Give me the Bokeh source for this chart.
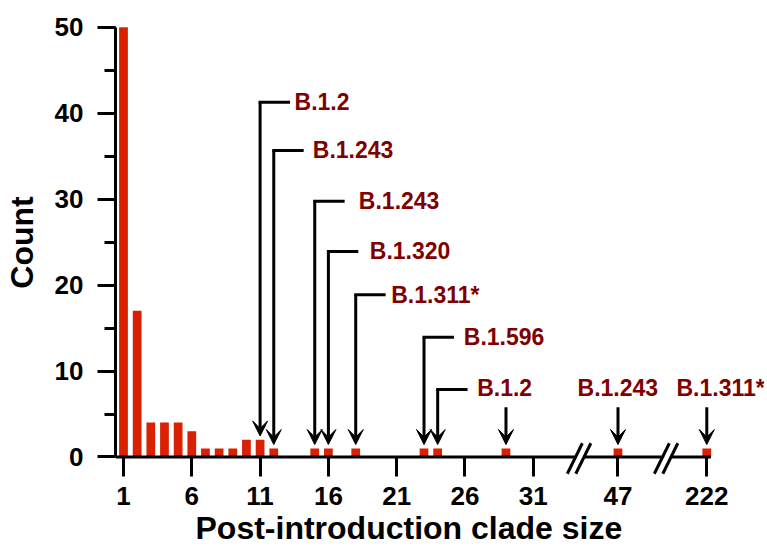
from bokeh.plotting import figure
from bokeh.models import (Range1d, FixedTicker, SingleIntervalTicker, ColumnDataSource,
                          Arrow, VeeHead, LabelSet, Title)
from bokeh.embed import file_html
from bokeh.resources import INLINE
from bokeh.core.properties import value

# ---------------- data ----------------
clade_size = [1, 2, 3, 4, 5, 6, 7, 8, 9, 10, 11, 12, 15, 16, 18, 23, 24, 29, 47, 222]
count = [50, 17, 4, 4, 4, 3, 1, 1, 1, 2, 2, 1, 1, 1, 1, 1, 1, 1, 1, 1]
tick_sizes = [1, 6, 11, 16, 21, 26, 31, 47, 222]

elbow_sizes = [11, 12, 15, 16, 18, 23, 24]
elbow_labels = ["B.1.2", "B.1.243", "B.1.243", "B.1.320", "B.1.311*", "B.1.596", ""]
drop_sizes = [29, 47, 222]
drop_labels = ["B.1.2", "B.1.243", "B.1.311*"]

x_title = "Post-introduction clade size"
y_title = "Count"

# ---------------- layout (broken axis) ----------------
axis_slots = {47: 37.2, 222: 43.7}
def slot(v):
    return axis_slots.get(v, v)

break_slots = [34.35, 40.72]
axis_end = 44.0
elbow_levels = [41.27, 35.66, 29.76, 23.91, 18.87, 13.94, 7.85]
elbow_text_x = [13.52, 14.86, 18.23, 19.03, 20.60, 25.91, None]
drop_top = 5.79
drop_text_x = [26.89, 34.24, 41.48]
drop_text_y = 8.08
tip_gap = 0.45
arm = 2.08

FONT = "Liberation Sans"
BAR = "#D92000"
LAB = "#800000"

FW = 649
x0 = 0.4144
x1 = x0 + FW / 13.66
p = figure(frame_width=FW, frame_height=468,
           x_range=Range1d(x0, x1), y_range=Range1d(-2.27, 52.18),
           output_backend="svg", toolbar_location=None,
           min_border_left=110, min_border_right=0, min_border_top=8, min_border_bottom=0)
p.grid.visible = False
p.outline_line_color = None
p.background_fill_color = "white"
p.border_fill_color = "white"

xs = [slot(v) for v in clade_size]
p.vbar(x=xs, top=count, bottom=0, width=0.64, fill_color=BAR, line_color=None)

# baseline with breaks
g = 0.31
seg_x0 = [x0, break_slots[0] + g, break_slots[1] + g]
seg_x1 = [break_slots[0] - g, break_slots[1] - g, axis_end]
p.segment(x0=seg_x0, y0=[0, 0, 0], x1=seg_x1, y1=[0, 0, 0],
          line_color="black", line_width=3)
bx0, by0, bx1, by1 = [], [], [], []
for b in break_slots:
    for off in (-0.31, 0.31):
        bx0.append(b + off - 0.55); by0.append(-1.95)
        bx1.append(b + off + 0.55); by1.append(1.6)
p.segment(x0=bx0, y0=by0, x1=bx1, y1=by1, line_color="black", line_width=3)

# elbow callouts
count_of = dict(zip(clade_size, count))
ex = [slot(v) for v in elbow_sizes]
p.segment(x0=ex, y0=elbow_levels, x1=[x + arm for x in ex], y1=elbow_levels,
          line_color="black", line_width=3, line_cap="square")
arr = ColumnDataSource(dict(
    x=ex + [slot(v) for v in drop_sizes],
    ys=elbow_levels + [drop_top] * len(drop_sizes),
    ye=[count_of[v] + tip_gap for v in elbow_sizes + drop_sizes],
))
p.add_layout(Arrow(end=VeeHead(size=15, fill_color="black", line_color="black", line_width=1),
                   x_start="x", y_start="ys", x_end="x", y_end="ye", source=arr,
                   line_color="black", line_width=3))

lt, lx, ly = [], [], []
for t, x, y in zip(elbow_labels, elbow_text_x, elbow_levels):
    if t:
        lt.append(t); lx.append(x); ly.append(y)
for t, x in zip(drop_labels, drop_text_x):
    lt.append(t); lx.append(x); ly.append(drop_text_y)
lab = ColumnDataSource(dict(x=lx, y=ly, text=lt))
p.add_layout(LabelSet(x="x", y="y", text="text", source=lab,
                      text_font=value(FONT), text_font_style="bold", text_font_size="23px",
                      text_color=LAB, text_align="left", text_baseline="middle"))

# axes
ya = p.yaxis[0]
ya.ticker = SingleIntervalTicker(interval=10, num_minor_ticks=2)
ya.bounds = (0, 50)
ya.axis_line_width = 3
ya.major_tick_line_width = 3
ya.minor_tick_line_width = 3
ya.major_tick_out = 18
ya.major_tick_in = 0
ya.minor_tick_out = 11
ya.minor_tick_in = 0
ya.major_label_standoff = 14
ya.major_label_text_font = FONT
ya.major_label_text_font_style = "bold"
ya.major_label_text_font_size = "26px"
ya.major_label_text_color = "black"
ya.axis_label = y_title
ya.axis_label_text_font = FONT
ya.axis_label_text_font_style = "bold"
ya.axis_label_text_font_size = "32px"
ya.axis_label_text_color = "black"
ya.axis_label_standoff = 12

xa = p.xaxis[0]
xa.ticker = FixedTicker(ticks=[slot(v) for v in tick_sizes], minor_ticks=[])
xa.major_label_overrides = {slot(v): str(v) for v in tick_sizes}
xa.axis_line_color = None
xa.major_tick_line_width = 3
xa.major_tick_in = 19
xa.major_tick_out = 0
xa.minor_tick_line_color = None
xa.major_label_standoff = 10
xa.major_label_text_font = FONT
xa.major_label_text_font_style = "bold"
xa.major_label_text_font_size = "26px"
xa.major_label_text_color = "black"

p.add_layout(Title(text=x_title, align="left", offset=80, standoff=0,
                   text_font=FONT, text_font_style="bold", text_font_size="32px",
                   text_color="black"), "below")

open("out.html", "w").write(file_html(p, INLINE))
